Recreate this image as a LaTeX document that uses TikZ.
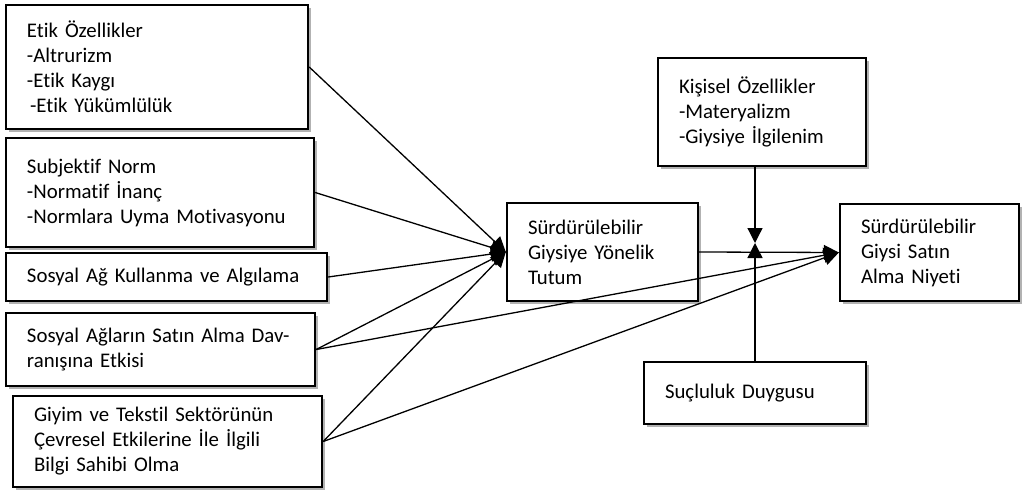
\documentclass[tikz,border=0pt]{standalone}
\usepackage{fontspec}
\setmainfont{Carlito}[Ligatures=NoCommon]
\usetikzlibrary{arrows.meta,shadows}
\begin{document}
\begin{tikzpicture}[x=1pt,y=-1pt,
  box/.style={draw=black,line width=2.4pt,fill=white,inner xsep=21pt,inner ysep=0pt,align=left,
    font=\fontsize{20.8}{25}\selectfont,
    drop shadow={shadow xshift=3pt,shadow yshift=-3pt,fill=black,opacity=0.3}},
  conn/.style={line width=1.3pt,-{Triangle[length=15pt,width=15pt]}}]
\useasboundingbox (0,0) rectangle (1022,497);
\node[box,text width=260pt,minimum height=124pt] (b1) at (157,67) {Etik Özellikler\\-Altrurizm\\-Etik Kaygı\\\hspace*{3pt}-Etik Yükümlülük};
\node[box,text width=266pt,minimum height=109pt] (b2) at (160,192.5) {Subjektif Norm\\-Normatif İnanç\\-Normlara Uyma Motivasyonu};
\node[box,text width=279pt,minimum height=48pt] (b3) at (166.5,277) {Sosyal Ağ Kullanma ve Algılama};
\node[box,text width=267pt,minimum height=73pt] (b4) at (160.5,349.5) {Sosyal Ağların Satın Alma Dav-\\ranışına Etkisi};
\node[box,text width=267pt,minimum height=91pt] (b5) at (167.5,441.5) {Giyim ve Tekstil Sektörünün\\Çevresel Etkilerine İle İlgili\\Bilgi Sahibi Olma};
\node[box,text width=149pt,minimum height=98pt] (cb) at (602.5,252) {Sürdürülebilir\\Giysiye Yönelik\\Tutum};
\node[box,text width=166pt,minimum height=108pt] (kis) at (762,112) {Kişisel Özellikler\\-Materyalizm\\-Giysiye İlgilenim};
\node[box,text width=137pt,minimum height=97pt] (rb) at (929.5,252.5) {Sürdürülebilir\\Giysi Satın\\Alma Niyeti};
\node[box,text width=180pt,minimum height=62pt] (suc) at (755,393) {Suçluluk Duygusu};
\coordinate (j) at (755,243);
\draw[conn] (b1.east) -- (cb.west);
\draw[conn] (b2.east) -- (cb.west);
\draw[conn] (b3.east) -- (cb.west);
\draw[conn] (b4.east) -- (cb.west);
\draw[conn] (b5.east) -- (cb.west);
\draw[conn] (b4.east) -- (rb.west);
\draw[conn] (b5.east) -- (rb.west);
\draw[conn] (cb.east) -- (rb.west);
\draw[conn] (j |- kis.south) -- (j);
\draw[conn] (suc.north) -- (j);
\end{tikzpicture}
\end{document}
